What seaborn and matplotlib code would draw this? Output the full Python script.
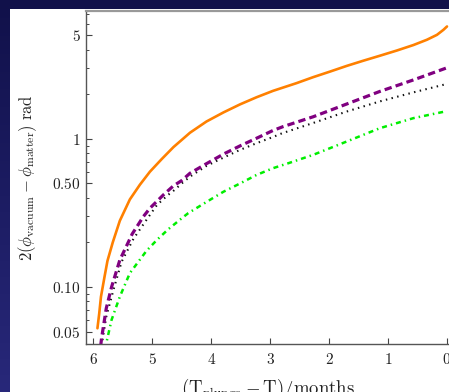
import numpy as np
import pandas as pd
import matplotlib
matplotlib.use("Agg")
import matplotlib.pyplot as plt
import matplotlib.ticker as mticker
from matplotlib.patches import Rectangle
from matplotlib.colors import LinearSegmentedColormap
import seaborn as sns

# ---- data ----
orange_x = [5.93, 5.90, 5.87, 5.81, 5.76, 5.67, 5.55, 5.38, 5.21, 5.04, 4.84, 4.64, 4.36, 4.08, 3.79,
            3.51, 3.23, 2.95, 2.55, 2.27, 1.98, 1.70, 1.42, 1.14, 0.85, 0.57, 0.34, 0.17, 0.06, 0.0]
orange_y = [0.0526, 0.066, 0.086, 0.117, 0.150, 0.200, 0.28, 0.39, 0.49, 0.60, 0.73, 0.88, 1.10, 1.31, 1.51,
            1.71, 1.91, 2.11, 2.38, 2.61, 2.85, 3.11, 3.37, 3.64, 3.95, 4.30, 4.67, 5.04, 5.45, 5.74]

purple_x = [5.875, 5.86, 5.78, 5.69, 5.55, 5.34, 5.15, 5.04, 4.81, 4.64, 4.50, 4.36, 4.08, 3.79, 3.51,
            3.23, 2.95, 2.78, 2.27, 1.70, 1.14, 0.57, 0.0]
purple_y = [0.040, 0.045, 0.0718, 0.10, 0.152, 0.228, 0.299, 0.34, 0.419, 0.482, 0.523, 0.586, 0.68, 0.79, 0.897,
            1.01, 1.14, 1.21, 1.41, 1.72, 2.09, 2.50, 3.02]

black_x = [5.86, 5.84, 5.78, 5.66, 5.52, 5.32, 5.09, 4.92, 4.73, 4.64, 4.50, 4.36, 4.08, 3.79, 3.51,
           3.23, 2.95, 2.80, 2.27, 1.70, 1.14, 0.57, 0.0]
black_y = [0.040, 0.045, 0.063, 0.095, 0.148, 0.211, 0.287, 0.358, 0.419, 0.446, 0.50, 0.556, 0.657, 0.748, 0.843,
           0.935, 1.03, 1.09, 1.28, 1.53, 1.79, 2.06, 2.35]

green_x = [5.80, 5.78, 5.69, 5.55, 5.38, 5.10, 4.92, 4.73, 4.50, 4.39, 4.08, 3.79, 3.51, 3.23, 2.95,
           2.69, 2.27, 1.70, 1.14, 0.57, 0.0]
green_y = [0.038, 0.0417, 0.06, 0.086, 0.124, 0.175, 0.208, 0.245, 0.291, 0.315, 0.375, 0.44, 0.50, 0.571, 0.634,
           0.685, 0.78, 0.96, 1.18, 1.38, 1.54]

x_ticks = [6, 5, 4, 3, 2, 1, 0]
y_ticks = [0.05, 0.10, 0.50, 1, 5]
y_tick_labels = ["0.05", "0.10", "0.50", "1", "5"]

# ---- style ----
sns.set_style("ticks")
plt.rcParams["mathtext.fontset"] = "cm"
plt.rcParams["font.family"] = ["DejaVu Serif"]

W, H = 449, 392
fig = plt.figure(figsize=(W / 100, H / 100), dpi=100)

# dark blue slide background
bg = fig.add_axes([0, 0, 1, 1], zorder=-10)
grad = np.linspace(0, 1, 256).reshape(-1, 1)
cmap = LinearSegmentedColormap.from_list("bg", ["#11114a", "#1c1c62", "#28287a"])
bg.imshow(grad, aspect="auto", cmap=cmap, extent=[0, 1, 0, 1], origin="upper")
bg.set_axis_off()

# white panel
fig.patches.append(Rectangle((10 / W, 0), 1, (H - 9) / H, transform=fig.transFigure,
                             facecolor="white", edgecolor="none", zorder=-5))

left, right, top, bottom = 86, 449, 11, 344
ax = fig.add_axes([left / W, (H - bottom) / H, (right - left) / W, (bottom - top) / H])
ax.set_facecolor("none")

frames = []
for name, xs, ys in [("orange", orange_x, orange_y), ("purple", purple_x, purple_y),
                     ("black", black_x, black_y), ("green", green_x, green_y)]:
    frames.append(pd.DataFrame({"x": xs, "y": ys, "series": name}))
df = pd.concat(frames, ignore_index=True)

styles = {
    "orange": dict(color="#ff8000", lw=1.9, ls="-"),
    "purple": dict(color="#800080", lw=2.3, ls=(0, (2.3, 1.3))),
    "black": dict(color="#111111", lw=1.5, ls=(0, (0.7, 2.1))),
    "green": dict(color="#00ee00", lw=1.8, ls=(0, (2.0, 1.6, 0.6, 1.6))),
}
for name in ["green", "black", "purple", "orange"]:
    st = styles[name]
    sns.lineplot(data=df[df.series == name], x="x", y="y", ax=ax, color=st["color"],
                 linewidth=st["lw"], linestyle=st["ls"], estimator=None, sort=False,
                 legend=False)

ax.set_yscale("log")
ax.set_xlim(6.124, -0.034)
ax.set_ylim(0.0412, 7.3)

ax.xaxis.set_major_locator(mticker.FixedLocator(x_ticks))
ax.xaxis.set_major_formatter(mticker.FixedFormatter([f"${t}$" for t in x_ticks]))
ax.xaxis.set_minor_locator(mticker.NullLocator())
ax.yaxis.set_major_locator(mticker.FixedLocator(y_ticks))
ax.yaxis.set_major_formatter(mticker.FixedFormatter([f"${t}$" for t in y_tick_labels]))
ax.yaxis.set_minor_locator(mticker.LogLocator(base=10, subs=np.arange(2, 10)))
ax.yaxis.set_minor_formatter(mticker.NullFormatter())

ax.tick_params(axis="both", which="major", direction="in", length=4, width=0.8,
               color="#444444", labelsize=11, pad=4, labelcolor="#222222")
ax.tick_params(axis="y", which="minor", direction="in", length=2.5, width=0.7, color="#444444")
ax.tick_params(axis="x", which="major", pad=6)

for s in ["left", "bottom"]:
    ax.spines[s].set_color("#555555")
    ax.spines[s].set_linewidth(1.0)
ax.spines["top"].set_visible(True)
ax.spines["top"].set_color("#999999")
ax.spines["top"].set_linewidth(1.6)
ax.spines["right"].set_visible(False)

ax.set_xlabel(r"$(\mathrm{T}_{\mathrm{plunge}} - \mathrm{T})/\mathrm{months}$", fontsize=13.5, color="#222222")
ax.set_ylabel(r"$2(\phi_{\mathrm{vacuum}} - \phi_{\mathrm{matter}})\ \mathrm{rad}$", fontsize=12, color="#222222")
ax.xaxis.set_label_coords(0.5, -0.098)
ax.yaxis.set_label_coords(-0.13, 0.5)

fig.savefig("out.png", dpi=100)
